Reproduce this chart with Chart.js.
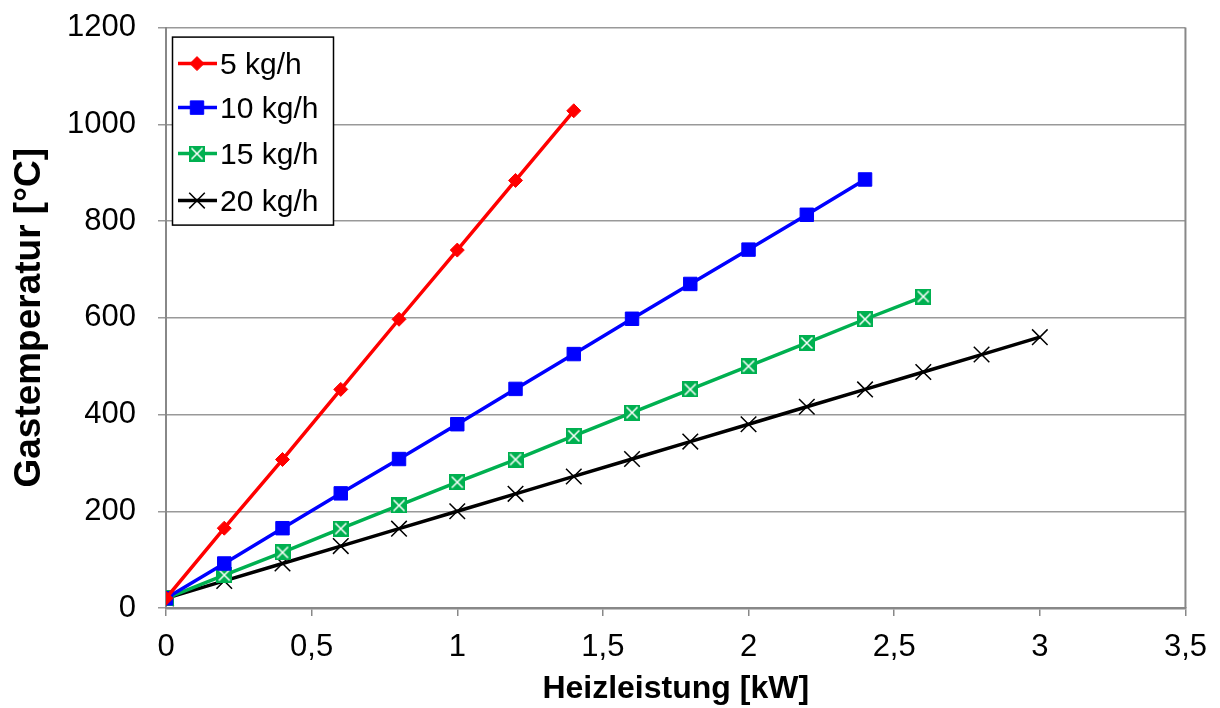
<!DOCTYPE html>
<html>
<head>
<meta charset="utf-8">
<script src="https://cdn.jsdelivr.net/npm/chart.js@4.4.0/dist/chart.umd.min.js"></script>
<style>
    html, body { margin: 0; padding: 0; background: #fff; overflow: hidden; }
    #wrap { width: 1220px; height: 721px; margin-top: -13px; }
</style>
</head>
<body>
<div id="wrap"><canvas id="tempChart"></canvas></div>
<script>
// Heizleistung [kW] je Messreihe
const power5 = [0, 0.2, 0.4, 0.6, 0.8, 1.0, 1.2, 1.4];
const power10 = [0, 0.2, 0.4, 0.6, 0.8, 1.0, 1.2, 1.4, 1.6, 1.8, 2.0, 2.2, 2.4];
const power15 = [0, 0.2, 0.4, 0.6, 0.8, 1.0, 1.2, 1.4, 1.6, 1.8, 2.0, 2.2, 2.4, 2.6];
const power20 = [0, 0.2, 0.4, 0.6, 0.8, 1.0, 1.2, 1.4, 1.6, 1.8, 2.0, 2.2, 2.4, 2.6, 2.8, 3.0];

// Gastemperatur [°C]
const temp5 = [20, 165, 307, 452, 597, 740, 884, 1028];
const temp10 = [20, 92, 165, 237, 308, 380, 453, 525, 598, 670, 741, 813, 886];
const temp15 = [20, 68, 115, 164, 212, 260, 307, 356, 404, 452, 500, 548, 597, 644];
const temp20 = [20, 56, 92, 128, 164, 200, 236, 272, 308, 344, 380, 416, 452, 488, 524, 560];

const seriesLabels = ['5 kg/h', '10 kg/h', '15 kg/h', '20 kg/h'];

const xMin = 0, xMax = 3.5, xStep = 0.5;
const yMin = 0, yMax = 1200, yStep = 200;

const FONT = '"Liberation Sans", Arial, sans-serif';

function toPoints(xs, ys) {
    return xs.map(function (x, i) { return { x: x, y: ys[i] }; });
}

// green square with white X (Excel style marker)
function MakeGreenMarker(size) {
    const c = document.createElement('canvas');
    c.width = size; c.height = size;
    const g = c.getContext('2d');
    g.fillStyle = '#00b050';
    g.fillRect(0, 0, size, size);
    g.strokeStyle = '#ffffff';
    g.lineWidth = 1.5;
    g.beginPath();
    g.moveTo(2.5, 2.5); g.lineTo(size - 2.5, size - 2.5);
    g.moveTo(size - 2.5, 2.5); g.lineTo(2.5, size - 2.5);
    g.stroke();
    return c;
}
const greenMarker = MakeGreenMarker(16);

// legend box sits inside the plot, top left (page coords + 13px canvas shift)
const legendInside = {
    id: 'legendInside',
    afterDraw: function (chart) {
        const ctx = chart.ctx;
        const dy = chart.chartArea.top - 27;
        const left = 172, top = 36 + dy, w = 161, h = 188;
        ctx.save();
        ctx.fillStyle = '#ffffff';
        ctx.fillRect(left, top, w, h);
        ctx.strokeStyle = '#000000';
        ctx.lineWidth = 1.5;
        ctx.strokeRect(left + 0.5, top + 0.5, w, h);
        ctx.font = '30px ' + FONT;
        ctx.textBaseline = 'middle';
        const rows = [63, 107, 153, 200];
        chart.data.datasets.forEach(function (ds, i) {
            const y = rows[i] + dy;
            ctx.strokeStyle = ds.borderColor;
            ctx.lineWidth = 3.5;
            ctx.beginPath();
            ctx.moveTo(178, y);
            ctx.lineTo(217, y);
            ctx.stroke();
            const ps = ds.pointStyle;
            if (ps instanceof HTMLCanvasElement) {
                ctx.drawImage(ps, 197 - ps.width / 2, y - ps.height / 2);
            } else {
                ctx.fillStyle = ds.pointBackgroundColor || ds.borderColor;
                ctx.strokeStyle = ds.pointBorderColor || ds.borderColor;
                ctx.lineWidth = ds.pointBorderWidth;
                Chart.helpers.drawPoint(ctx, {
                    pointStyle: ps,
                    radius: ds.pointRadius,
                    borderWidth: ds.pointBorderWidth,
                    rotation: 0
                }, 197, y);
            }
            ctx.fillStyle = '#000000';
            ctx.fillText(seriesLabels[i], 220, y + 2);
        });
        ctx.restore();
    }
};

const rightBorder = {
    id: 'rightBorder',
    afterDraw: function (chart) {
        const a = chart.chartArea;
        const c = chart.ctx;
        c.save();
        c.strokeStyle = '#888';
        c.lineWidth = 2;
        c.beginPath();
        c.moveTo(a.right, a.top);
        c.lineTo(a.right, a.bottom);
        c.stroke();
        c.restore();
    }
};

const ctx = document.getElementById('tempChart').getContext('2d');
new Chart(ctx, {
    type: 'scatter',
    data: {
        datasets: [{
            label: seriesLabels[0],
            data: toPoints(power5, temp5),
            showLine: true,
            borderColor: '#ff0000',
            backgroundColor: '#ff0000',
            borderWidth: 3.5,
            pointStyle: 'rectRot',
            pointRadius: 7,
            pointBackgroundColor: '#ff0000',
            pointBorderColor: '#ff0000',
            pointBorderWidth: 1
        }, {
            label: seriesLabels[1],
            data: toPoints(power10, temp10),
            showLine: true,
            borderColor: '#0000ff',
            backgroundColor: '#0000ff',
            borderWidth: 3.5,
            pointStyle: 'rect',
            pointRadius: 9.5,
            pointBackgroundColor: '#0000ff',
            pointBorderColor: '#0000ff',
            pointBorderWidth: 1
        }, {
            label: seriesLabels[2],
            data: toPoints(power15, temp15),
            showLine: true,
            borderColor: '#00b050',
            backgroundColor: '#00b050',
            borderWidth: 3.5,
            pointStyle: greenMarker,
            pointRadius: 8
        }, {
            label: seriesLabels[3],
            data: toPoints(power20, temp20),
            showLine: true,
            borderColor: '#000000',
            backgroundColor: '#000000',
            borderWidth: 3.5,
            pointStyle: 'crossRot',
            pointRadius: 11,
            pointBackgroundColor: '#000000',
            pointBorderColor: '#000000',
            pointBorderWidth: 1.5
        }]
    },
    options: {
        responsive: true,
        maintainAspectRatio: false,
        animation: false,
        layout: { padding: { left: 0, right: 34, top: 15, bottom: 0 } },
        plugins: {
            legend: { display: false },
            tooltip: { enabled: false }
        },
        scales: {
            x: {
                type: 'linear',
                min: xMin,
                max: xMax,
                afterFit: function (scale) { scale.height = 100; },
                ticks: {
                    stepSize: xStep,
                    color: '#000',
                    padding: 13,
                    font: { family: FONT, size: 31 },
                    callback: function (v) { return String(v).replace('.', ','); }
                },
                grid: { drawOnChartArea: false, color: '#888', tickLength: 8, lineWidth: 1.5 },
                border: { color: '#888', width: 2.5 },
                title: {
                    display: true,
                    text: 'Heizleistung [kW]',
                    color: '#000',
                    padding: { top: 0, bottom: 0 },
                    font: { family: FONT, size: 32, weight: 'bold' }
                }
            },
            y: {
                min: yMin,
                max: yMax,
                afterFit: function (scale) { scale.width = 166; },
                ticks: {
                    stepSize: yStep,
                    color: '#000',
                    padding: 22,
                    font: { family: FONT, size: 31 },
                    callback: function (v) { return String(v); }
                },
                grid: { color: '#999', tickLength: 8, lineWidth: 1.5 },
                border: { color: '#888', width: 2 },
                title: {
                    display: true,
                    text: 'Gastemperatur [°C]',
                    color: '#000',
                    padding: { top: 8, bottom: 0 },
                    font: { family: FONT, size: 37, weight: 'bold' }
                }
            }
        }
    },
    plugins: [rightBorder, legendInside]
});
</script>
</body>
</html>
